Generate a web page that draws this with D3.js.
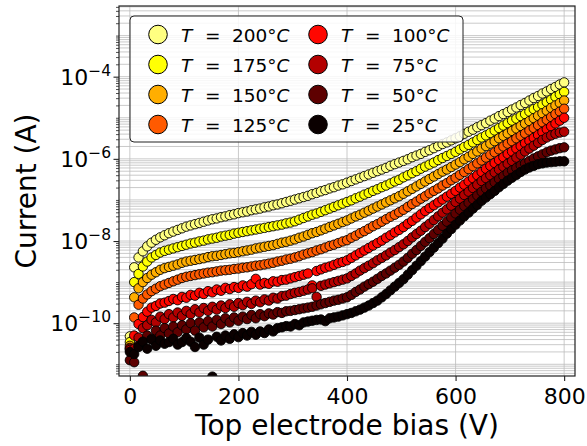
<!DOCTYPE html>
<html><head><meta charset="utf-8">
<script src="https://cdn.jsdelivr.net/npm/d3@7"></script>
<style>body{margin:0;background:#fff} svg{display:block} text{font-family:"DejaVu Sans",sans-serif;fill:#000}</style>
</head><body><svg id="c" width="587" height="446"></svg>
<script>
// ---------- data ----------
const biasV = [0,8,16,24,32,40,48,56,64,72,80,88,96,104,112,120,128,136,144,152,
160,168,176,184,192,200,208,216,224,232,240,248,256,264,272,280,288,296,304,312,
320,328,336,344,352,360,368,376,384,392,400,408,416,424,432,440,448,456,464,472,
480,488,496,504,512,520,528,536,544,552,560,568,576,584,592,600,608,616,624,632,
640,648,656,664,672,680,688,696,704,712,720,728,736,744,752,760,768,776,784,792,800];

const temperaturesC = [200,175,150,125,100,75,50,25];

// log10 of current (A)
const logI_200C = [-10.32,-8.64,-8.40,-8.25,-8.13,-8.04,-7.97,-7.91,-7.86,-7.81,
-7.77,-7.73,-7.69,-7.65,-7.62,-7.59,-7.56,-7.53,-7.50,-7.47,
-7.45,-7.42,-7.40,-7.37,-7.35,-7.32,-7.30,-7.28,-7.25,-7.23,
-7.21,-7.18,-7.16,-7.13,-7.11,-7.08,-7.05,-7.02,-6.99,-6.96,
-6.93,-6.90,-6.86,-6.83,-6.79,-6.76,-6.72,-6.69,-6.65,-6.62,
-6.58,-6.54,-6.50,-6.46,-6.42,-6.38,-6.34,-6.30,-6.26,-6.22,
-6.17,-6.13,-6.09,-6.05,-6.01,-5.96,-5.92,-5.88,-5.83,-5.79,
-5.74,-5.69,-5.64,-5.60,-5.55,-5.50,-5.45,-5.39,-5.34,-5.29,
-5.23,-5.18,-5.13,-5.07,-5.02,-4.96,-4.91,-4.86,-4.80,-4.75,
-4.69,-4.64,-4.58,-4.52,-4.47,-4.41,-4.36,-4.30,-4.25,-4.19,-4.14];

const logI_175C = [-10.46,-9.00,-8.80,-8.62,-8.50,-8.40,-8.34,-8.28,-8.24,-8.21,
-8.18,-8.15,-8.12,-8.09,-8.06,-8.04,-8.01,-7.99,-7.96,-7.94,
-7.92,-7.89,-7.87,-7.85,-7.82,-7.80,-7.78,-7.76,-7.74,-7.72,
-7.70,-7.68,-7.66,-7.64,-7.62,-7.60,-7.57,-7.55,-7.52,-7.48,
-7.44,-7.40,-7.36,-7.33,-7.29,-7.25,-7.21,-7.17,-7.13,-7.09,
-7.05,-7.01,-6.96,-6.92,-6.87,-6.83,-6.78,-6.74,-6.69,-6.65,
-6.60,-6.55,-6.51,-6.45,-6.40,-6.35,-6.30,-6.24,-6.19,-6.14,
-6.09,-6.03,-5.98,-5.93,-5.88,-5.83,-5.77,-5.71,-5.66,-5.60,
-5.54,-5.48,-5.43,-5.37,-5.31,-5.25,-5.19,-5.13,-5.07,-5.02,
-4.96,-4.91,-4.85,-4.79,-4.74,-4.68,-4.62,-4.56,-4.49,-4.43,-4.37];

const logI_150C = [-10.55,-9.37,-9.15,-9.00,-8.90,-8.82,-8.76,-8.70,-8.66,-8.63,
-8.60,-8.57,-8.53,-8.50,-8.48,-8.46,-8.44,-8.42,-8.39,-8.37,
-8.36,-8.34,-8.32,-8.30,-8.29,-8.27,-8.25,-8.23,-8.21,-8.18,
-8.16,-8.14,-8.12,-8.10,-8.07,-8.04,-8.02,-7.99,-7.96,-7.92,
-7.89,-7.85,-7.81,-7.78,-7.74,-7.70,-7.66,-7.62,-7.58,-7.54,
-7.50,-7.45,-7.40,-7.36,-7.31,-7.26,-7.21,-7.16,-7.11,-7.06,
-7.01,-6.96,-6.91,-6.85,-6.79,-6.73,-6.67,-6.61,-6.55,-6.49,
-6.43,-6.37,-6.31,-6.26,-6.20,-6.14,-6.08,-6.01,-5.95,-5.88,
-5.82,-5.75,-5.69,-5.63,-5.57,-5.50,-5.44,-5.38,-5.32,-5.26,
-5.20,-5.14,-5.08,-5.01,-4.95,-4.89,-4.83,-4.76,-4.70,-4.64,-4.58];

const logI_125C = [-10.60,-9.86,-9.55,-9.40,-9.30,-9.22,-9.16,-9.10,-9.06,-9.02,
-8.98,-8.94,-8.90,-8.87,-8.85,-8.83,-8.81,-8.79,-8.77,-8.76,
-8.74,-8.72,-8.71,-8.70,-8.68,-8.67,-8.65,-8.64,-8.62,-8.60,
-8.59,-8.57,-8.55,-8.53,-8.50,-8.48,-8.45,-8.43,-8.40,-8.37,
-8.33,-8.30,-8.27,-8.23,-8.20,-8.16,-8.12,-8.09,-8.05,-8.01,
-7.98,-7.92,-7.87,-7.81,-7.76,-7.70,-7.64,-7.59,-7.53,-7.47,
-7.41,-7.36,-7.30,-7.24,-7.17,-7.10,-7.04,-6.97,-6.91,-6.84,
-6.78,-6.72,-6.65,-6.59,-6.52,-6.46,-6.39,-6.32,-6.25,-6.18,
-6.11,-6.04,-5.97,-5.90,-5.84,-5.77,-5.70,-5.63,-5.57,-5.50,
-5.44,-5.38,-5.31,-5.25,-5.18,-5.11,-5.05,-4.98,-4.91,-4.85,-4.78];

const logI_100C = [-10.62,-10.30,-10.02,-9.85,-9.72,-9.62,-9.58,-9.52,-9.50,-9.46,
-9.41,-9.44,-9.36,-9.38,-9.31,-9.33,-9.26,-9.29,-9.22,-9.25,
-9.18,-9.21,-9.14,-9.17,-9.12,-9.14,-9.08,-9.11,-9.05,-8.92,
-9.06,-9.02,-9.04,-8.98,-8.99,-8.95,-8.94,-8.91,-8.88,-8.85,
-8.82,-8.79,-9.08,-8.73,-8.69,-8.65,-8.62,-8.58,-8.54,-8.51,
-8.47,-8.41,-8.35,-8.29,-8.23,-8.17,-8.11,-8.05,-7.99,-7.92,
-7.86,-7.79,-7.73,-7.66,-7.58,-7.51,-7.43,-7.35,-7.27,-7.20,
-7.13,-7.06,-6.99,-6.92,-6.85,-6.78,-6.70,-6.63,-6.55,-6.47,
-6.40,-6.32,-6.24,-6.17,-6.10,-6.03,-5.96,-5.88,-5.82,-5.75,
-5.69,-5.62,-5.56,-5.49,-5.42,-5.35,-5.28,-5.21,-5.14,-5.07,-5.00];

const logI_75C = [-10.65,-10.62,-10.35,-10.12,-10.05,-9.92,-9.98,-9.84,-9.90,-9.78,
-9.86,-9.74,-9.82,-9.70,-9.78,-9.66,-9.74,-9.63,-9.70,-9.60,
-9.67,-9.57,-9.63,-9.54,-9.60,-9.51,-9.56,-9.48,-9.53,-9.45,
-9.49,-9.42,-9.45,-9.38,-9.40,-9.34,-9.33,-9.29,-9.26,-9.24,
-9.21,-9.18,-9.15,-9.36,-9.09,-9.06,-9.03,-9.00,-8.97,-8.94,
-8.91,-8.85,-8.79,-8.72,-8.66,-8.60,-8.54,-8.47,-8.41,-8.35,
-8.28,-8.22,-8.15,-8.08,-8.00,-7.91,-7.83,-7.75,-7.66,-7.58,
-7.49,-7.40,-7.31,-7.23,-7.14,-7.05,-6.97,-6.88,-6.80,-6.71,
-6.63,-6.54,-6.47,-6.40,-6.33,-6.26,-6.19,-6.12,-6.05,-5.97,
-5.90,-5.82,-5.75,-5.68,-5.61,-5.54,-5.48,-5.43,-5.39,-5.36,-5.34];

const logI_50C = [-10.90,-10.95,-10.55,-11.28,-10.30,-10.38,-10.18,-10.30,-10.12,-10.25,
-10.08,-10.22,-10.05,-10.15,-10.00,-10.18,-9.98,-10.10,-9.95,-10.08,
-9.92,-10.02,-9.88,-9.98,-9.86,-9.94,-9.84,-9.90,-9.80,-9.88,
-9.78,-9.83,-9.76,-9.79,-9.73,-9.75,-9.71,-9.70,-9.68,-9.66,
-9.64,-9.62,-9.60,-9.57,-9.54,-9.51,-9.48,-9.45,-9.43,-9.40,
-9.37,-9.31,-9.24,-9.18,-9.11,-9.05,-8.99,-8.92,-8.85,-8.79,
-8.72,-8.65,-8.58,-8.50,-8.41,-8.31,-8.22,-8.12,-8.02,-7.93,
-7.83,-7.73,-7.63,-7.53,-7.43,-7.33,-7.24,-7.15,-7.07,-6.98,
-6.89,-6.80,-6.72,-6.65,-6.57,-6.49,-6.42,-6.34,-6.28,-6.22,
-6.16,-6.11,-6.05,-5.99,-5.94,-5.89,-5.84,-5.80,-5.77,-5.74,-5.72];

const logI_25C = [-10.70,-10.75,-10.58,-10.45,-10.62,-10.40,-10.55,-10.42,-10.50,-10.46,
-10.38,-10.52,-10.46,-10.36,-10.45,-10.58,-10.35,-10.52,-10.40,-11.30,
-10.33,-10.42,-10.30,-10.38,-10.27,-10.34,-10.24,-10.30,-10.21,-10.28,
-10.20,-10.24,-10.15,-10.20,-10.12,-10.10,-10.07,-10.08,-10.02,-10.05,
-9.98,-9.96,-9.94,-9.92,-9.91,-9.95,-9.88,-9.86,-9.84,-9.81,
-9.78,-9.75,-9.71,-9.67,-9.62,-9.57,-9.51,-9.45,-9.37,-9.29,
-9.20,-9.11,-9.02,-8.93,-8.82,-8.71,-8.60,-8.49,-8.38,-8.27,
-8.16,-8.05,-7.94,-7.82,-7.71,-7.60,-7.50,-7.40,-7.31,-7.21,
-7.12,-7.02,-6.94,-6.86,-6.78,-6.69,-6.61,-6.53,-6.46,-6.39,
-6.32,-6.26,-6.21,-6.17,-6.13,-6.11,-6.09,-6.08,-6.07,-6.06,-6.06];

const xTickValues = [0,200,400,600,800];
const yMajorExponents = [-10,-8,-6,-4];

// ---------- styles ----------
const seriesColors = ['#ffff81','#ffff04','#ffae00','#ff5a00','#ff0700','#b30000','#5e0000','#0b0000'];
const allLogI = [logI_200C,logI_175C,logI_150C,logI_125C,logI_100C,logI_75C,logI_50C,logI_25C];

const L=119,R=575,T=6,B=376;
const svg=d3.select('#c');
const x=d3.scaleLinear().domain([-20,820]).range([L,R]);
const y=d3.scaleLog().domain([Math.pow(10,-11.285),Math.pow(10,-2.28)]).range([B,T]);

svg.append('defs').append('clipPath').attr('id','clip')
  .append('rect').attr('x',L).attr('y',T).attr('width',R-L).attr('height',B-T);

// grid
const grid=svg.append('g');
grid.selectAll('line.h').data(y.ticks()).join('line')
  .attr('x1',L).attr('x2',R).attr('y1',d=>y(d)).attr('y2',d=>y(d))
  .attr('stroke','#bdbdbd').attr('stroke-width',0.8);
grid.selectAll('line.v').data(xTickValues).join('line')
  .attr('x1',d=>x(d)).attr('x2',d=>x(d)).attr('y1',T).attr('y2',B)
  .attr('stroke','#bdbdbd').attr('stroke-width',0.8);

// data
const plot=svg.append('g').attr('clip-path','url(#clip)');
allLogI.forEach((arr,si)=>{
  plot.append('g').selectAll('circle').data(arr.map((v,i)=>({V:biasV[i],I:Math.pow(10,v)}))).join('circle')
    .attr('cx',d=>x(d.V)).attr('cy',d=>y(d.I)).attr('r',4.7)
    .attr('fill',seriesColors[si]).attr('stroke','#000').attr('stroke-width',0.9);
});

// frame
svg.append('rect').attr('x',L).attr('y',T).attr('width',R-L).attr('height',B-T)
  .attr('fill','none').attr('stroke','#222').attr('stroke-width',1.2);

// x axis
const xa=svg.append('g').attr('transform',`translate(0,${B})`)
  .call(d3.axisBottom(x).tickValues(xTickValues).tickSize(5).tickPadding(7).tickSizeOuter(0));
xa.select('.domain').remove();
xa.selectAll('line').attr('stroke','#222').attr('stroke-width',1.1);
xa.selectAll('text').attr('font-size',22).attr('font-family','DejaVu Sans').attr('fill','#000');

// y axis: minor ticks
const majorVals=yMajorExponents.map(e=>Math.pow(10,e));
const minorVals=y.ticks().filter(v=>!yMajorExponents.some(e=>Math.abs(Math.log10(v)-e)<1e-6));
const ym=svg.append('g').attr('transform',`translate(${L},0)`)
  .call(d3.axisLeft(y).tickValues(minorVals).tickSize(3).tickFormat('').tickSizeOuter(0));
ym.select('.domain').remove();
ym.selectAll('line').attr('stroke','#222').attr('stroke-width',0.8);
const yM=svg.append('g').attr('transform',`translate(${L},0)`)
  .call(d3.axisLeft(y).tickValues(majorVals).tickSize(5.5).tickFormat('').tickSizeOuter(0));
yM.select('.domain').remove();
yM.selectAll('line').attr('stroke','#222').attr('stroke-width',1.1);
// y tick labels with superscripts
yMajorExponents.forEach(e=>{
  const t=svg.append('text').attr('x',111).attr('y',y(Math.pow(10,e))+8).attr('text-anchor','end');
  t.append('tspan').attr('font-size',22).text('10');
  t.append('tspan').attr('font-size',15.5).attr('dy',-9).text('\u2212'+Math.abs(e));
});

// axis labels
svg.append('text').attr('x',(L+R)/2).attr('y',435).attr('text-anchor','middle')
  .attr('font-size',28).text('Top electrode bias (V)');
svg.append('text').attr('transform',`translate(36,${(T+B)/2}) rotate(-90)`).attr('text-anchor','middle')
  .attr('font-size',28).text('Current (A)');

// legend
const lg=svg.append('g');
lg.append('rect').attr('x',130).attr('y',16).attr('width',333).attr('height',126).attr('rx',4)
  .attr('fill','#fff').attr('fill-opacity',0.85).attr('stroke','#222').attr('stroke-width',1);
temperaturesC.forEach((tc,i)=>{
  const col=Math.floor(i/4), row=i%4;
  const mx=col?318:158, tx=col?341:181, cy=34.5+row*30;
  lg.append('circle').attr('cx',mx).attr('cy',cy).attr('r',9.3)
    .attr('fill',seriesColors[i]).attr('stroke','#000').attr('stroke-width',1);
  const t=lg.append('text').attr('y',cy+7).attr('font-size',18.5);
  t.append('tspan').attr('x',tx).attr('font-style','italic').text('T');
  t.append('tspan').attr('x',tx+24).text('=');
  t.append('tspan').attr('x',tx+51).text(tc+'\u00b0');
  t.append('tspan').attr('font-style','italic').text('C');
});
</script></body></html>
